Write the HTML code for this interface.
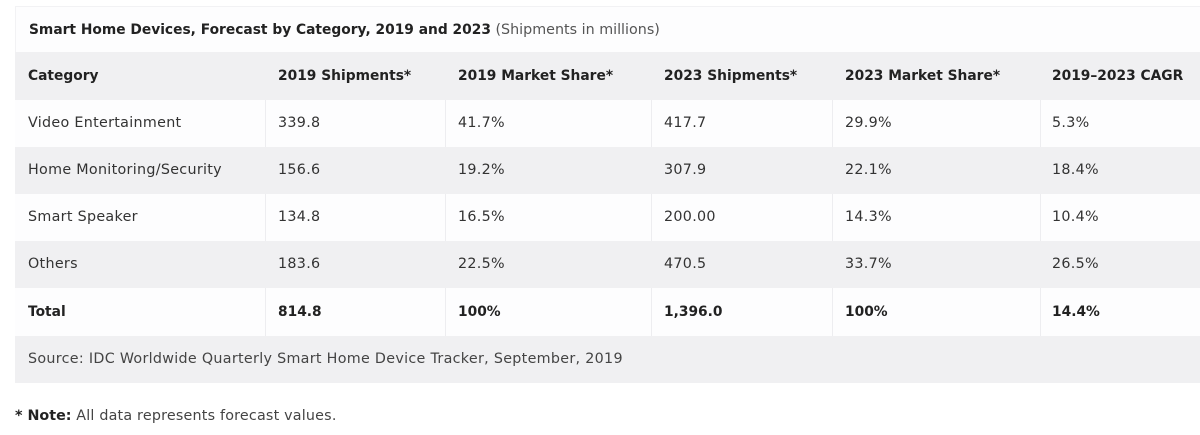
<!DOCTYPE html>
<html><head><style>
body{margin:0;width:1200px;height:435px;background:#fff;font-family:"DejaVu Sans","Liberation Sans",sans-serif;color:#333;overflow:hidden;position:relative}
.r{position:absolute;left:15px;width:1185px;height:47px}
.g{background:#f0f0f2}
.w{background:#fdfdfe}
.c{position:absolute;top:0;line-height:47px;font-size:14.3px;letter-spacing:0.3px;white-space:nowrap}
.b{font-weight:bold;color:#222;letter-spacing:0;font-size:13.8px}
.v{position:absolute;top:0;width:1px;height:100%;background:#ededf0}
</style></head><body>
<div class="r w" style="top:6px;height:46px;border-top:1px solid #f2f2f4;border-left:1px solid #f2f2f4"><div class="c" style="left:13px;line-height:46px;letter-spacing:0"><b style="color:#222;font-size:13.8px">Smart Home Devices, Forecast by Category, 2019 and 2023</b> <span style="color:#555">(Shipments in millions)</span></div></div>
<div class="r g" style="top:52px;height:48px"><div class="c b" style="left:13px;line-height:48px">Category</div><div class="c b" style="left:263px;line-height:48px">2019 Shipments*</div><div class="c b" style="left:443px;line-height:48px">2019 Market Share*</div><div class="c b" style="left:649px;line-height:48px">2023 Shipments*</div><div class="c b" style="left:830px;line-height:48px">2023 Market Share*</div><div class="c b" style="left:1037px;line-height:48px">2019–2023 CAGR</div></div>
<div class="r w" style="top:100px"><div class="v" style="left:250px"></div><div class="v" style="left:430px"></div><div class="v" style="left:636px"></div><div class="v" style="left:817px"></div><div class="v" style="left:1025px"></div><div class="c" style="left:13px">Video Entertainment</div><div class="c" style="left:263px">339.8</div><div class="c" style="left:443px">41.7%</div><div class="c" style="left:649px">417.7</div><div class="c" style="left:830px">29.9%</div><div class="c" style="left:1037px">5.3%</div></div>
<div class="r g" style="top:147px"><div class="c" style="left:13px">Home Monitoring/Security</div><div class="c" style="left:263px">156.6</div><div class="c" style="left:443px">19.2%</div><div class="c" style="left:649px">307.9</div><div class="c" style="left:830px">22.1%</div><div class="c" style="left:1037px">18.4%</div></div>
<div class="r w" style="top:194px"><div class="v" style="left:250px"></div><div class="v" style="left:430px"></div><div class="v" style="left:636px"></div><div class="v" style="left:817px"></div><div class="v" style="left:1025px"></div><div class="c" style="left:13px">Smart Speaker</div><div class="c" style="left:263px">134.8</div><div class="c" style="left:443px">16.5%</div><div class="c" style="left:649px">200.00</div><div class="c" style="left:830px">14.3%</div><div class="c" style="left:1037px">10.4%</div></div>
<div class="r g" style="top:241px"><div class="c" style="left:13px">Others</div><div class="c" style="left:263px">183.6</div><div class="c" style="left:443px">22.5%</div><div class="c" style="left:649px">470.5</div><div class="c" style="left:830px">33.7%</div><div class="c" style="left:1037px">26.5%</div></div>
<div class="r w" style="top:288px;height:48px"><div class="v" style="left:250px"></div><div class="v" style="left:430px"></div><div class="v" style="left:636px"></div><div class="v" style="left:817px"></div><div class="v" style="left:1025px"></div><div class="c b" style="left:13px;line-height:48px">Total</div><div class="c b" style="left:263px;line-height:48px">814.8</div><div class="c b" style="left:443px;line-height:48px">100%</div><div class="c b" style="left:649px;line-height:48px">1,396.0</div><div class="c b" style="left:830px;line-height:48px">100%</div><div class="c b" style="left:1037px;line-height:48px">14.4%</div></div>
<div class="r g" style="top:336px"><div class="c" style="left:13px;color:#444">Source: IDC Worldwide Quarterly Smart Home Device Tracker, September, 2019</div></div>
<div style="position:absolute;left:15px;top:408px;font-size:14.3px;letter-spacing:0.2px;color:#444"><b style="color:#222;letter-spacing:0">* Note:</b> All data represents forecast values.</div>
</body></html>
